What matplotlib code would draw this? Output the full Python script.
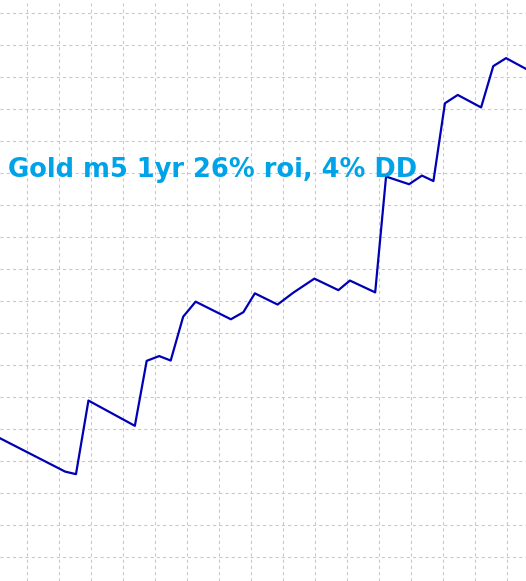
"""
Equity curve for a gold m5 strategy, one year.
"""

import matplotlib
matplotlib.use("Agg")
import matplotlib.pyplot as plt
from matplotlib.ticker import MultipleLocator

# Equity curve (x in grid steps, balance in grid steps)
trade_pos = [-0.83, 1.20, 1.54, 1.93, 3.38, 3.75, 4.14, 4.50, 4.89, 5.28,
             6.38, 6.77, 7.13, 7.84, 8.33, 8.99, 9.74, 10.10, 10.89, 11.23,
             11.95, 12.35, 12.71, 13.07, 13.47, 14.20, 14.58, 14.98, 15.61]
balance = [3.70, 2.66, 2.58, 4.88, 4.09, 6.12, 6.27, 6.13, 7.50, 7.97,
           7.42, 7.64, 8.23, 7.88, 8.25, 8.69, 8.33, 8.63, 8.26, 11.88,
           11.64, 11.91, 11.74, 14.17, 14.43, 14.04, 15.33, 15.58, 15.24]

title_text = "Gold m5 1yr 26% roi, 4% DD"

fig = plt.figure(figsize=(5.26, 5.81), dpi=100)
ax = fig.add_axes([0, 0, 1, 1])

ax.plot(trade_pos, balance, color="#0000b4", linewidth=1.6)

ax.set_xlim(-0.834, 15.603)
ax.set_ylim(-0.759, 17.397)
ax.xaxis.set_major_locator(MultipleLocator(1))
ax.yaxis.set_major_locator(MultipleLocator(1))
ax.grid(True, color="#c8c8c8", linestyle=(0, (3, 3)), linewidth=0.75)
ax.set_axisbelow(True)
ax.tick_params(left=False, bottom=False, labelleft=False, labelbottom=False)
for sp in ax.spines.values():
    sp.set_visible(False)

ax.text(8 / 526, (581 - 177) / 581, title_text, transform=ax.transAxes,
        ha="left", va="baseline", fontsize=18.5, fontweight="bold",
        family="DejaVu Sans", color="#00a2e8")

fig.savefig("out.png", dpi=100)
